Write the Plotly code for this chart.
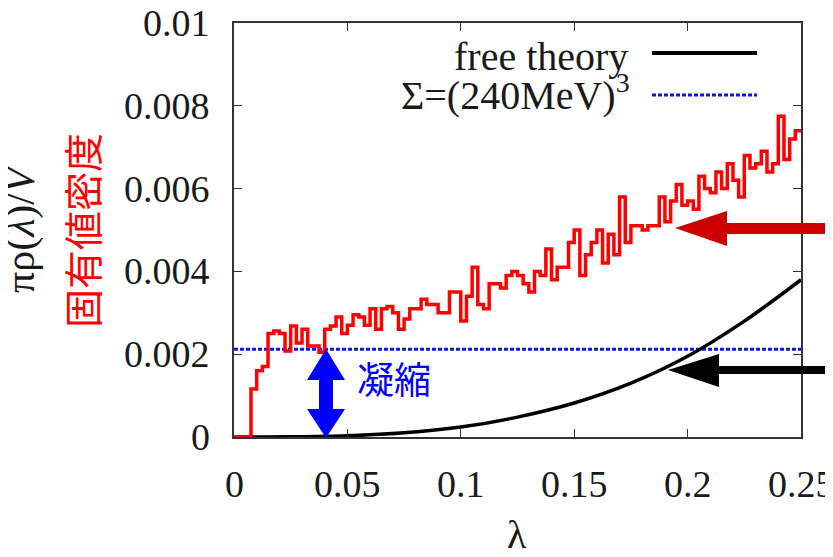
import plotly.graph_objects as go

# ---- data ----
bin_width = 0.0025
rho_hist = [
    0.0, 0.0, 0.0, 0.00116, 0.0016, 0.0017, 0.0025, 0.00256, 0.0025, 0.00208,
    0.00268, 0.00227, 0.0026, 0.0022, 0.0022, 0.00205, 0.0026, 0.00268, 0.0029, 0.0025,
    0.0027, 0.00295, 0.0029, 0.0027, 0.0031, 0.0026, 0.0031, 0.00315, 0.0030, 0.0026,
    0.00285, 0.0031, 0.0031, 0.00333, 0.0032, 0.0032, 0.0030, 0.0030, 0.0035, 0.0035,
    0.0028, 0.0034, 0.0041, 0.0032, 0.0031, 0.0037, 0.0037, 0.0036, 0.0039, 0.0040,
    0.0039, 0.0037, 0.0035, 0.0040, 0.0039, 0.00454, 0.0038, 0.0041, 0.0041, 0.0047,
    0.0050, 0.0039, 0.0044, 0.0047, 0.0050, 0.0042, 0.0049, 0.0044, 0.0058, 0.0047,
    0.0051, 0.0051, 0.0050, 0.0051, 0.0051, 0.0058, 0.0052, 0.0057, 0.0061, 0.0056,
    0.0057, 0.0055, 0.0063, 0.0060, 0.0059, 0.0064, 0.0060, 0.0066, 0.0062, 0.0058,
    0.0068, 0.0065, 0.0066, 0.0069, 0.0064, 0.0066, 0.00775, 0.0067, 0.0072, 0.0074,
]
free_lam = [0.0, 0.025, 0.05, 0.075, 0.1, 0.125, 0.15, 0.175, 0.2, 0.225, 0.25]
free_rho = [0.0, 0.000004, 0.00003, 0.0001, 0.00024, 0.00048, 0.00082, 0.0013, 0.00195, 0.0028, 0.0038]
sigma_lam = [0.0, 0.25]
sigma_rho = [0.00212, 0.00212]
x_ticks = [0, 0.05, 0.1, 0.15, 0.2, 0.25]
x_tick_labels = ["0", "0.05", "0.1", "0.15", "0.2", "0.25"]
y_ticks = [0, 0.002, 0.004, 0.006, 0.008, 0.01]
y_tick_labels = ["0", "0.002", "0.004", "0.006", "0.008", "0.01"]

hist_x = [i * bin_width for i in range(len(rho_hist) + 1)]
hist_y = rho_hist + [rho_hist[-1]]

# ---- layout geometry (screen pixels; page body has an 8px default margin) ----
SW, SH = 833, 557
OFF = 8
L, R, T, B = 234, 801, 23, 437


def px(X):
    return (X - L) / (R - L)


def py(Y):
    return (B - Y) / (B - T)


SERIF = "Liberation Serif, Times New Roman, serif"
CJK = "Noto Sans CJK JP, sans-serif"
TXT = "#1a1a1a"

fig = go.Figure()
fig.add_trace(go.Scatter(x=sigma_lam, y=sigma_rho, mode="lines",
                         line=dict(color="#1010ee", width=3, dash="4px,2px"),
                         showlegend=False, hoverinfo="skip"))
fig.add_trace(go.Scatter(x=free_lam, y=free_rho, mode="lines",
                         line=dict(color="black", width=3.5, shape="spline"),
                         showlegend=False, hoverinfo="skip"))
fig.add_trace(go.Scatter(x=hist_x, y=hist_y, mode="lines",
                         line=dict(color="#ff0000", width=3.5, shape="hv"),
                         showlegend=False, hoverinfo="skip"))

axis_common = dict(showline=True, linecolor="#333", linewidth=1.5, mirror="ticks",
                   ticks="inside", ticklen=8, tickwidth=1.2, tickcolor="#333",
                   showgrid=False, zeroline=False, automargin=False,
                   showticklabels=False)
fig.update_xaxes(range=[0, 0.25], tickvals=x_ticks, **axis_common)
fig.update_yaxes(range=[0, 0.01], tickvals=y_ticks, **axis_common)

shapes = []
# legend samples
shapes.append(dict(type="line", xref="paper", yref="paper", x0=px(652), x1=px(757),
                   y0=py(53), y1=py(53), line=dict(color="black", width=4)))
shapes.append(dict(type="line", xref="paper", yref="paper", x0=px(652), x1=px(757),
                   y0=py(95), y1=py(95), line=dict(color="#1010ee", width=3, dash="4px,2px")))


def poly(points, color):
    d = "M " + " L ".join(f"{px(a):.5f},{py(b):.5f}" for a, b in points) + " Z"
    return dict(type="path", xref="paper", yref="paper", path=d,
                fillcolor=color, line=dict(width=0), layer="above")


# red arrow
shapes.append(poly([(675, 228), (727, 211), (727, 223), (840, 223), (840, 234), (727, 234), (727, 246)], "#cc0000"))
# black arrow
shapes.append(poly([(668, 370), (719, 354), (719, 366), (840, 366), (840, 374), (719, 374), (719, 387)], "#000000"))
# blue double arrow
shapes.append(poly([(326, 349), (345, 380), (333, 380), (333, 409), (345, 409), (326, 438),
                    (307, 409), (319, 409), (319, 380), (307, 380)], "#0000ff"))

annotations = []
# tick labels drawn as text so the edge labels (0.01, 0.25) are kept
for v, t in zip(x_ticks, x_tick_labels):
    annotations.append(dict(text=t, xref="x", yref="paper", x=v, y=py(484),
                            xanchor="center", yanchor="middle", showarrow=False,
                            font=dict(family=SERIF, size=38, color=TXT)))
for v, t in zip(y_ticks, y_tick_labels):
    annotations.append(dict(text=t, xref="paper", yref="y", x=px(212), y=v,
                            xanchor="right", yanchor="middle", showarrow=False,
                            font=dict(family=SERIF, size=38, color=TXT)))

annotations += [
    dict(text="free theory", xref="paper", yref="paper", x=px(630), y=py(56),
         xanchor="right", yanchor="middle", showarrow=False,
         font=dict(family=SERIF, size=40, color=TXT)),
    dict(text="Σ=(240MeV)<sup>3</sup>", xref="paper", yref="paper", x=px(632), y=py(93),
         xanchor="right", yanchor="middle", showarrow=False,
         font=dict(family=SERIF, size=40, color=TXT)),
    dict(text="凝縮", xref="paper", yref="paper", x=px(355), y=py(378),
         xanchor="left", yanchor="middle", showarrow=False,
         font=dict(family=CJK, size=37, color="#0000ff")),
    dict(text="λ", xref="paper", yref="paper", x=px(517), y=py(534),
         xanchor="center", yanchor="middle", showarrow=False,
         font=dict(family=SERIF, size=40, color=TXT)),
    dict(text="πρ(<i>λ</i>)/<i>V</i>", xref="paper", yref="paper", x=px(20), y=py(228),
         xanchor="center", yanchor="middle", textangle=-90, showarrow=False,
         font=dict(family=SERIF, size=42, color=TXT)),
    dict(text="固有値密度", xref="paper", yref="paper", x=px(81), y=py(231),
         xanchor="center", yanchor="middle", textangle=-90, showarrow=False,
         font=dict(family=CJK, size=39, color="#ff0000")),
]

fig.update_layout(width=SW - OFF, height=SH - OFF,
                  margin=dict(l=L - OFF, r=SW - R, t=T - OFF, b=SH - B),
                  plot_bgcolor="white", paper_bgcolor="white",
                  shapes=shapes, annotations=annotations, showlegend=False)
fig.write_html("out.html")
